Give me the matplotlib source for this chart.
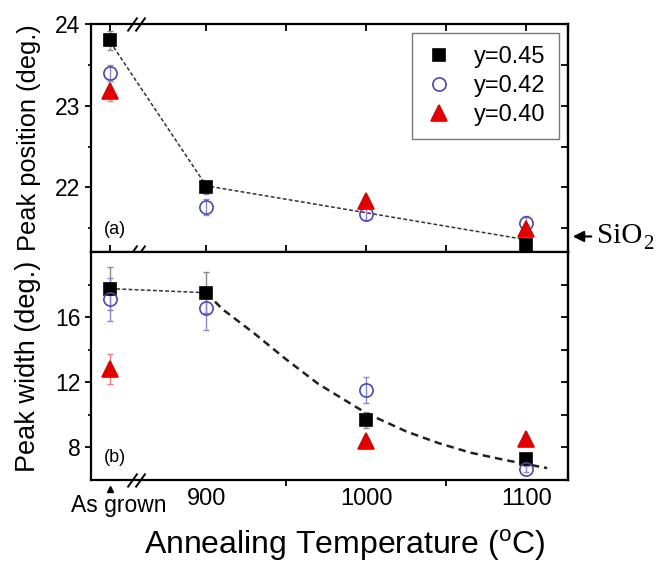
import numpy as np
import matplotlib.pyplot as plt
import matplotlib.transforms as mtransforms
from matplotlib.patches import FancyArrowPatch

plt.rcParams['font.family'] = ['Liberation Sans', 'DejaVu Sans']
plt.rcParams['mathtext.fontset'] = 'custom'
plt.rcParams['mathtext.rm'] = 'Liberation Sans'

# annealing temperature; the as-grown samples sit at 840 on the axis
temps = [840, 900, 1000, 1100]
xticks = [900, 1000, 1100]
xlabels = ['900', '1000', '1100']

# (a) peak position (deg.)
pos_045 = [23.80, 22.00, np.nan, 21.30]
pos_045_err = [0.12, 0.08, 0.0, 0.05]
pos_042 = [23.40, 21.76, 21.68, 21.57]
pos_042_err = [0.10, 0.10, 0.08, 0.08]
pos_040 = [23.18, np.nan, 21.83, 21.49]
pos_040_err = [0.12, 0.0, 0.05, 0.05]
# guide line through the y=0.45 points
pos_fit_t = [840, 900, 1100]
pos_fit_v = [23.78, 22.02, 21.36]

# (b) peak width (deg.)
wid_045 = [17.75, 17.50, 9.70, 7.29]
wid_045_err = [1.3, 1.25, 0.5, 0.3]
wid_042 = [17.09, 16.54, 11.51, 6.67]
wid_042_err = [1.3, 1.3, 0.8, 0.2]
wid_040 = [12.82, np.nan, 8.40, 8.52]
wid_040_err = [0.9, 0.0, 0.2, 0.2]
wid_fit1_t = [840, 900]
wid_fit1_v = [17.75, 17.50]
wid_fit2_t = [900, 910, 930, 950, 970, 985, 1000, 1025, 1045, 1065, 1087, 1113]
wid_fit2_v = [17.5, 16.5, 15.0, 13.4, 11.9, 11.0, 10.1, 8.98, 8.27, 7.68, 7.22, 6.73]

sio2_pos = 21.4

W, H = 659, 564
fig = plt.figure(figsize=(W / 100, H / 100), dpi=100)
ax1 = fig.add_axes([91 / W, 1 - 252 / H, 477 / W, 228 / H])
ax2 = fig.add_axes([91 / W, 1 - 480 / H, 477 / W, 228 / H])

blue = '#4a4aa8'
red = '#e00000'

styles = {
    '045': dict(marker='s', ms=8.5, mfc='black', mec='black', ecol='#888888'),
    '042': dict(marker='o', ms=9.5, mfc='none', mec=blue, ecol='#8888cc'),
    '040': dict(marker='^', ms=11, mfc=red, mec=red, ecol='#e08080'),
}


def draw_series(ax, vals, errs, key, label=None):
    s = styles[key]
    ax.errorbar(temps, vals, yerr=errs, fmt='none', ecolor=s['ecol'],
                elinewidth=1, capsize=2.5, capthick=1, zorder=2)
    ax.plot(temps, vals, ls='none', marker=s['marker'], ms=s['ms'],
            mfc=s['mfc'], mec=s['mec'], mew=1.2, label=label, zorder=3)


for ax in (ax1, ax2):
    for sp in ax.spines.values():
        sp.set_linewidth(1.6)
    ax.set_xlim(828, 1126)
    ax.set_xticks(temps[:1] + xticks)
    ax.set_xticks([950, 1050], minor=True)

# ---- panel (a)
ax1.plot(pos_fit_t, pos_fit_v, ls=(0, (2.5, 1.5)), color='#333333', lw=1.1, zorder=1)
draw_series(ax1, pos_045, pos_045_err, '045', 'y=0.45')
draw_series(ax1, pos_042, pos_042_err, '042', 'y=0.42')
draw_series(ax1, pos_040, pos_040_err, '040', 'y=0.40')
ax1.set_ylim(21.21, 24)
ax1.set_yticks([22, 23, 24])
ax1.set_yticks([21.5, 22.5, 23.5], minor=True)
ax1.tick_params(axis='x', which='both', direction='in', top=True, bottom=True,
                labelbottom=False, length=5, width=1.3)
ax1.set_ylabel('Peak position (deg.)', fontsize=18.3)
ax1.yaxis.set_label_coords(-0.105, 0.5)
ax1.text(0.028, 0.1, '(a)', transform=ax1.transAxes, fontsize=13, va='center')
leg = ax1.legend(loc='upper right', bbox_to_anchor=(0.981, 0.9605), borderaxespad=0,
                 fontsize=17, frameon=True, fancybox=False, edgecolor='#555555',
                 handlelength=1.2, handletextpad=0.9, labelspacing=0.3,
                 borderpad=0.55, numpoints=1)
leg.get_frame().set_linewidth(1.0)

# ---- panel (b)
ax2.plot(wid_fit1_t, wid_fit1_v, ls=(0, (2.5, 1.5)), color='#333333', lw=1.1, zorder=1)
ax2.plot(wid_fit2_t, wid_fit2_v, ls=(0, (3, 2)), color='#222222', lw=1.8, zorder=1)
draw_series(ax2, wid_045, wid_045_err, '045')
draw_series(ax2, wid_042, wid_042_err, '042')
draw_series(ax2, wid_040, wid_040_err, '040')
ax2.set_ylim(6, 20)
ax2.set_yticks([8, 12, 16])
ax2.set_yticks([10, 14, 18], minor=True)
ax2.set_xticks(temps[:1] + xticks)
ax2.set_xticklabels([''] + xlabels, fontsize=17)
ax2.tick_params(axis='x', which='major', direction='out', top=False, length=0, pad=6)
ax2.tick_params(axis='x', which='minor', direction='out', top=False, length=4, width=1.3)
ax2.set_ylabel('Peak width (deg.)', fontsize=19.5)
ax2.yaxis.set_label_coords(-0.105, 0.5)
ax2.text(0.028, 0.1, '(b)', transform=ax2.transAxes, fontsize=13, va='center')

# left ticks outward, right ticks inward
for ax, majors, minors in ((ax1, [22, 23, 24], [21.5, 22.5, 23.5]),
                           (ax2, [8, 12, 16], [10, 14, 18])):
    ax.tick_params(axis='y', which='major', direction='out', length=4, width=1.3,
                   labelsize=16.5)
    ax.tick_params(axis='y', which='minor', direction='out', length=2.5, width=1.2)
    sec = ax.secondary_yaxis('right')
    sec.set_yticks(majors + minors)
    sec.tick_params(direction='in', length=5, width=1.3, labelright=False)
    sec.spines['right'].set_linewidth(1.6)

# "As grown" label with a small pointer
trans2 = mtransforms.blended_transform_factory(ax2.transData, ax2.transAxes)
ax2.plot([temps[0]], [-0.04], transform=trans2, marker='^', ms=4.5, color='black',
         ls='none', clip_on=False)
ax2.annotate('As grown', xy=(temps[0], 0), xycoords=trans2, xytext=(6, -10),
             textcoords='offset points', ha='center', va='top', fontsize=16.5)

# axis break marks
for ax, ys in ((ax1, [0, 1]), (ax2, [0])):
    tr = mtransforms.blended_transform_factory(ax.transData, ax.transAxes)
    for y in ys:
        ax.plot([853.5, 858.5], [y, y], transform=tr, ls='none',
                marker=[(-1, -1.4), (1, 1.4)], ms=10, mew=1.4, color='black',
                clip_on=False, zorder=5)

fig.text(345 / W, 1 - 545 / H, r'Annealing Temperature ($^{\mathrm{o}}$C)',
         fontsize=23, ha='center', va='center')

# SiO2 marker on the right
yfig = ax1.transData.transform((1126, sio2_pos))[1] / H
fig.patches.append(FancyArrowPatch(
    (594 / W, yfig), (570 / W, yfig), transform=fig.transFigure,
    arrowstyle='-|>', mutation_scale=16, lw=1.6, color='black'))
fig.text(597 / W, yfig, 'SiO', family='Liberation Serif', fontsize=21,
         ha='left', va='center')
fig.text(643 / W, yfig - 8 / H, '2', family='Liberation Serif', fontsize=15,
         ha='left', va='center')

fig.savefig('out.png', dpi=100)
